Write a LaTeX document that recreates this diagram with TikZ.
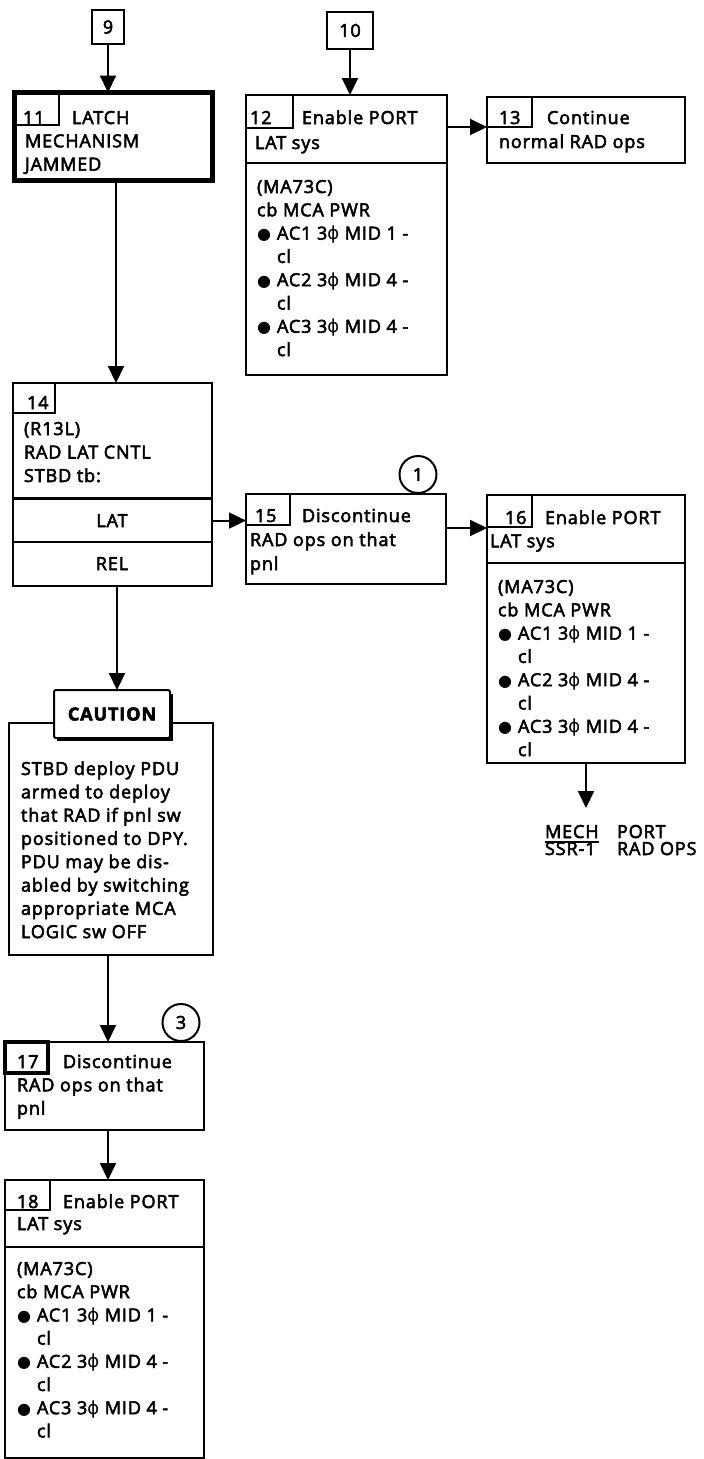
\documentclass[tikz,border=0pt]{standalone}
\usepackage{fontspec}
\setmainfont{Open Sans}[LetterSpace=5,FakeBold=3]
\newfontfamily\dejavu{DejaVu Sans}
\usetikzlibrary{arrows.meta}
\newcommand\dfont{\fontsize{18}{23}\selectfont}
\newcommand\ml[2][23.3pt]{\vtop{\baselineskip=#1\lineskiplimit=-20pt\halign{##\hfil\cr#2\crcr}}}
\newcommand\phis{{\dejavu ϕ}}
\newcommand\bul{\makebox[20pt][l]{\raisebox{0pt}{\dejavu\fontsize{16}{16}\selectfont ●}}}
\newcommand\ind{\hspace*{20pt}}
\begin{document}
\begin{tikzpicture}[x=1pt,y=-1pt,
  every node/.style={font=\dfont, outer sep=0pt},
  bx/.style={draw, line width=2pt, inner sep=0pt, anchor=north west},
  lab/.style={draw, line width=1.6pt, inner sep=0pt, anchor=north west},
  txt/.style={inner sep=0pt, anchor=base west},
  arr/.style={line width=2pt, -{Triangle[width=16pt,length=17pt]}},
  circ/.style={draw, circle, line width=2pt, minimum size=37pt, inner sep=0pt}]
\useasboundingbox (0,0) rectangle (704,1459);

% start boxes
\node[bx, minimum width=32pt, minimum height=34pt] (n9) at (92,10) {9};
\node[bx, minimum width=46pt, minimum height=37pt] (n10) at (327,12) {10};

% box 11
\node[bx, line width=5pt, minimum width=198pt, minimum height=88pt] (b11) at (14.5,92.5) {};
\node[lab, minimum width=46pt, minimum height=34pt] (l11) at (13,91) {};
\node[txt] (t11n) at (23,124) {11};
\node[txt] (t11) at (25,124) {\ml{\hspace*{47pt}LATCH\cr MECHANISM\cr JAMMED}};

% box 12
\node[bx, minimum width=201pt, minimum height=280pt] (b12) at (246,95) {};
\node[lab, minimum width=47pt, minimum height=33pt] (l12) at (b12.north west) {};
\draw[line width=2pt] (b12.west |- 0,163) -- (b12.east |- 0,163);
\node[txt] (t12n) at (250,124) {12};
\node[txt] (t12) at (255,124) {\ml[25pt]{\hspace*{47pt}Enable PORT\cr LAT sys}};
\node[txt] (t12b) at (257,193) {\ml{(MA73C)\cr cb MCA PWR\cr \bul AC1 3\phis{} MID 1 -\cr \ind cl\cr \bul AC2 3\phis{} MID 4 -\cr \ind cl\cr \bul AC3 3\phis{} MID 4 -\cr \ind cl}};

% box 13
\node[bx, minimum width=198pt, minimum height=66pt] (b13) at (487,97) {};
\node[lab, minimum width=45pt, minimum height=30pt] (l13) at (b13.north west) {};
\node[txt] (t13n) at (499,124) {13};
\node[txt] (t13) at (499,124) {\ml[24pt]{\hspace*{48pt}Continue\cr normal RAD ops}};

% box 14
\node[bx, minimum width=199pt, minimum height=203pt] (b14) at (13,383) {};
\node[lab, minimum width=42pt, minimum height=30pt] (l14) at (b14.north west) {};
\node[txt] (t14n) at (27,409) {14};
\node[txt] (t14) at (24,435) {\ml[23.5pt]{(R13L)\cr RAD LAT CNTL\cr STBD tb:}};
\draw[line width=3pt] (b14.west |- 0,498) -- (b14.east |- 0,498);
\draw[line width=2pt] (b14.west |- 0,542) -- (b14.east |- 0,542);
\node[inner sep=0pt, anchor=base] (lat) at (112,527) {LAT};
\node[inner sep=0pt, anchor=base] (rel) at (112,570) {REL};

% box 15
\node[bx, minimum width=200pt, minimum height=90pt] (b15) at (246,494) {};
\node[lab, minimum width=44pt, minimum height=31pt] (l15) at (b15.north west) {};
\node[circ, anchor=south] (c1) at (418,493) {1};
\node[txt] (t15n) at (255,522) {15};
\node[txt] (t15) at (250,522) {\ml[24pt]{\hspace*{52pt}Discontinue\cr RAD ops on that\cr pnl}};

% box 16
\node[bx, minimum width=198pt, minimum height=268pt] (b16) at (487,495) {};
\node[lab, minimum width=45pt, minimum height=32pt] (l16) at (b16.north west) {};
\draw[line width=2pt] (b16.west |- 0,563) -- (b16.east |- 0,563);
\node[txt] (t16n) at (505,524) {16};
\node[txt] (t16) at (490,524) {\ml{\hspace*{55pt}Enable PORT\cr LAT sys}};
\node[txt] (t16b) at (498,593) {\ml{(MA73C)\cr cb MCA PWR\cr \bul AC1 3\phis{} MID 1 -\cr \ind cl\cr \bul AC2 3\phis{} MID 4 -\cr \ind cl\cr \bul AC3 3\phis{} MID 4 -\cr \ind cl}};

% exit
\coordinate (endm) at (587,808);
\node[txt] (mech) at (545,838) {MECH};
\node[txt] (port) at (617,838) {PORT};
\node[txt] (ssr) at (545,855) {SSR-1};
\node[txt] (radops) at (617,855) {RAD OPS};
\draw[line width=1.5pt] ([yshift=-4pt]mech.base west) -- ([yshift=-4pt]mech.base east);

% caution
\node[bx, minimum width=204pt, minimum height=232pt] (cb) at (9,723) {};
\node[draw, fill=white, line width=2pt, rounded corners=2pt, inner sep=0pt, minimum width=116pt, minimum height=48pt, anchor=north west, font=\dfont\bfseries] (cl) at (54,690) {CAUTION};
\draw[line width=3pt] ([xshift=3pt,yshift=-1.5pt]cl.south west) -- ([xshift=1.5pt,yshift=-1.5pt]cl.south east) -- ([xshift=1.5pt,yshift=-4pt]cl.north east);
\node[txt] (tc) at (21,775) {\ml{STBD deploy PDU\cr armed to deploy\cr that RAD if pnl sw\cr positioned to DPY.\cr PDU may be dis-\cr abled by switching\cr appropriate MCA\cr LOGIC sw OFF}};

% box 17
\node[bx, minimum width=199pt, minimum height=88pt] (b17) at (5,1042) {};
\node[lab, line width=4pt, minimum width=43pt, minimum height=31pt] (l17) at (b17.north west) {};
\node[circ, anchor=south] (c3) at (181,1041) {3};
\node[txt] (t17n) at (17,1068) {17};
\node[txt] (t17) at (17,1068) {\ml{\hspace*{46pt}Discontinue\cr RAD ops on that\cr pnl}};

% box 18
\node[bx, minimum width=199pt, minimum height=278pt] (b18) at (5,1180) {};
\node[lab, minimum width=45pt, minimum height=30pt] (l18) at (b18.north west) {};
\draw[line width=2pt] (b18.west |- 0,1247) -- (b18.east |- 0,1247);
\node[txt] (t18n) at (17,1208) {18};
\node[txt] (t18) at (17,1208) {\ml[22pt]{\hspace*{46pt}Enable PORT\cr LAT sys}};
\node[txt] (t18b) at (17,1275) {\ml[23.2pt]{(MA73C)\cr cb MCA PWR\cr \bul AC1 3\phis{} MID 1 -\cr \ind cl\cr \bul AC2 3\phis{} MID 4 -\cr \ind cl\cr \bul AC3 3\phis{} MID 4 -\cr \ind cl}};

% connectors
\draw[arr] (n9) -- (n9 |- b11.north);
\draw[arr] (n10) -- (n10 |- b12.north);
\draw[arr] (b12.east |- 0,127) -- (b13.west |- 0,127);
\draw[arr] ([xshift=2.5pt]b11.south) -- ([xshift=2.5pt]b11.south |- b14.north);
\draw[arr] (b14.east |- lat) -- (b15.west |- lat);
\draw[arr] (b15.east |- 0,528) -- (b16.west |- 0,528);
\draw[arr] (b16) -- (b16 |- endm);
\draw[arr] ([xshift=4.5pt]b14.south) -- ([xshift=4.5pt]b14.south |- cl.north);
\draw[arr] ([xshift=-3pt]cb.south) -- ([xshift=-3pt]cb.south |- b17.north);
\draw[arr] ([xshift=3.5pt]b17.south) -- ([xshift=3.5pt]b17.south |- b18.north);
\end{tikzpicture}
\end{document}
